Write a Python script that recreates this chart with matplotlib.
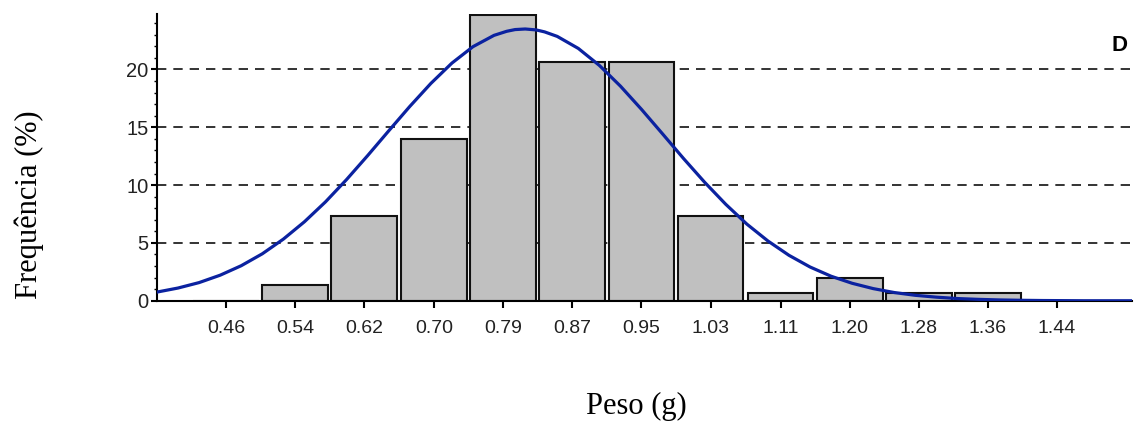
import numpy as np
import matplotlib
matplotlib.use("Agg")
import matplotlib.pyplot as plt
from matplotlib.ticker import MultipleLocator

# bin centres (g) and frequency (%)
bin_centers = [0.457, 0.539, 0.621, 0.704, 0.786, 0.868, 0.950,
               1.032, 1.115, 1.197, 1.279, 1.361, 1.443]
tick_labels = ["0.46", "0.54", "0.62", "0.70", "0.79", "0.87", "0.95",
               "1.03", "1.11", "1.20", "1.28", "1.36", "1.44"]
freq_pct = [0.0, 1.33, 7.33, 14.0, 24.67, 20.67, 20.67,
            7.33, 0.67, 2.0, 0.67, 0.67, 0.0]

# fitted curve
curve_x = [0.375, 0.400, 0.425, 0.450, 0.475, 0.500, 0.525, 0.550, 0.575, 0.600,
           0.625, 0.650, 0.675, 0.700, 0.725, 0.750, 0.775, 0.790, 0.800, 0.812,
           0.825, 0.835, 0.850,
           0.875, 0.900, 0.925, 0.950, 0.975, 1.000, 1.025, 1.050, 1.075, 1.100,
           1.125, 1.150, 1.175, 1.200, 1.225, 1.250, 1.275, 1.300, 1.325, 1.350,
           1.375, 1.400, 1.425, 1.450, 1.475, 1.500, 1.532]
curve_y = [0.75, 1.10, 1.57, 2.21, 3.03, 4.06, 5.33, 6.83, 8.55, 10.48,
           12.55, 14.69, 16.80, 18.79, 20.55, 21.97, 22.95, 23.30, 23.45, 23.50,
           23.42, 23.25, 22.86,
           21.82, 20.35, 18.56, 16.55, 14.43, 12.29, 10.24, 8.34, 6.63, 5.17,
           3.93, 2.92, 2.12, 1.51, 1.05, 0.71, 0.47, 0.31, 0.19, 0.12,
           0.07, 0.04, 0.02, 0.01, 0.0, 0.0, 0.0]

bin_w = 0.0822

fig = plt.figure(figsize=(11.39, 4.23), dpi=100)
ax = fig.add_axes([0.1378, 0.289, 0.856, 0.678])

for y in [5, 10, 15, 20]:
    ax.axhline(y, color="#333333", lw=1.4, ls=(0, (4.8, 3.6)), zorder=1)

ax.bar(bin_centers, freq_pct, width=bin_w * 0.95, color="#c0c0c0",
       edgecolor="#111111", linewidth=1.5, zorder=2)
ax.plot(curve_x, curve_y, color="#0b22a0", lw=2.3, zorder=3)

ax.set_xlim(0.375, 1.532)
ax.set_ylim(0, 24.8)
ax.set_xticks(bin_centers)
ax.set_xticklabels(tick_labels, family="Liberation Sans", fontsize=14, color="#222222")
ax.set_yticks([0, 5, 10, 15, 20])
ax.set_yticklabels(["0", "5", "10", "15", "20"], family="Liberation Sans",
                   fontsize=14.5, color="#222222")
ax.yaxis.set_minor_locator(MultipleLocator(1))
ax.tick_params(axis="x", length=5, width=1.5, pad=9, direction="out")
ax.tick_params(axis="y", which="major", length=4, width=1.5, pad=2)
ax.tick_params(axis="y", which="minor", length=2.5, width=1)

for s in ["top", "right"]:
    ax.spines[s].set_visible(False)
ax.spines["left"].set_linewidth(1.5)
ax.spines["bottom"].set_linewidth(1.5)

fig.text(0.0255, 0.515, "Frequência (%)", rotation=90, ha="center", va="center",
         family="Liberation Serif", fontsize=22)
fig.text(0.559, 0.04, "Peso (g)", ha="center", va="center",
         family="Liberation Serif", fontsize=22)
fig.text(0.983, 0.893, "D", ha="center", va="center",
         family="Liberation Sans", fontsize=16, fontweight="bold")

fig.savefig("out.png", dpi=100)
